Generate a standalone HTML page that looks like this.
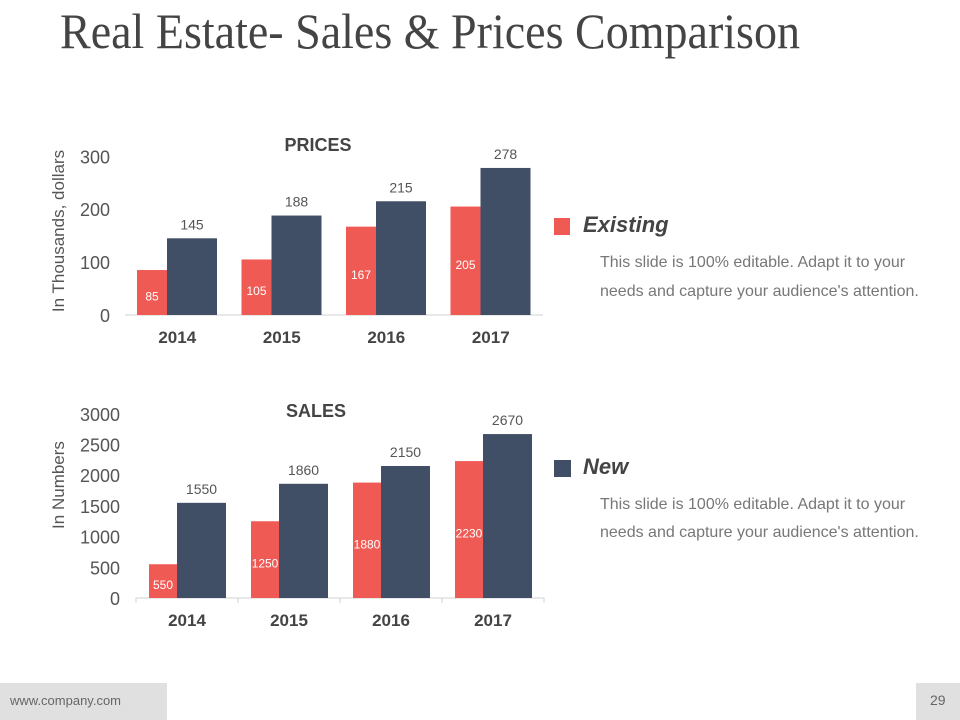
<!DOCTYPE html>
<html><head><meta charset="utf-8"><style>
html,body{margin:0;padding:0;background:#fff;}
svg{display:block;font-family:"Liberation Sans",sans-serif;}
</style></head><body>
<svg id="s" width="960" height="720" viewBox="0 0 960 720">
<text x="60" y="48" font-family="Liberation Serif,serif" font-size="50" fill="#444" textLength="740" lengthAdjust="spacingAndGlyphs">Real Estate- Sales &amp; Prices Comparison</text>
<g id="prices"></g>
<g id="sales"></g>
<g>
<rect x="554" y="218" width="16" height="17" fill="#f05a55"/>
<text x="583" y="232" font-size="22" font-weight="bold" font-style="italic" fill="#444">Existing</text>
<text x="600" y="267" font-size="16" fill="#777">This slide is 100% editable. Adapt it to your</text>
<text x="600" y="296" font-size="16" fill="#777">needs and capture your audience's attention.</text>
</g>
<g>
<rect x="554" y="460" width="17" height="17" fill="#404f66"/>
<text x="583" y="474" font-size="22" font-weight="bold" font-style="italic" fill="#444">New</text>
<text x="600" y="509" font-size="16" fill="#777">This slide is 100% editable. Adapt it to your</text>
<text x="600" y="537" font-size="16" fill="#777">needs and capture your audience's attention.</text>
</g>
<rect x="0" y="683" width="167" height="37" fill="#e0e0e0"/>
<text x="10" y="705" font-size="13" fill="#666">www.company.com</text>
<rect x="916" y="683" width="44" height="37" fill="#e0e0e0"/>
<text x="930" y="705" font-size="14" fill="#666">29</text>
</svg>
<script>
const categories = ["2014","2015","2016","2017"];
const priceExisting = [85,105,167,205];
const priceNew = [145,188,215,278];
const priceTicks = [0,100,200,300];
const salesExisting = [550,1250,1880,2230];
const salesNew = [1550,1860,2150,2670];
const salesTicks = [0,500,1000,1500,2000,2500,3000];
const NS="http://www.w3.org/2000/svg";
function mk(p,tag,a,txt){const e=document.createElementNS(NS,tag);for(const k in a)e.setAttribute(k,a[k]);if(txt!==undefined)e.textContent=txt;p.appendChild(e);return e;}
function chart(g,cfg,ex,nw,ticks,title,ytitle){
  const y=v=>cfg.base-v*cfg.k;
  const x0=cfg.x0,cw=cfg.cw;
  let e=mk(g,'line',{x1:x0,x2:x0+cw*categories.length,y1:cfg.base,y2:cfg.base,stroke:'#d0d0d0'});
  
  
  if(cfg.ticks){
    for(let i=0;i<=categories.length;i++){
      e=mk(g,'line',{x1:x0+cw*i,x2:x0+cw*i,y1:cfg.base,y2:cfg.base+5,stroke:'#d0d0d0'});
      
      
    }
  }
  ticks.forEach(t=>{
    e=mk(g,'text',{x:cfg.tx,y:y(t)+7,'text-anchor':'end','font-size':18,fill:'#555'},String(t));
    
    
  });
  categories.forEach((c,i)=>{
    const cx=x0+cw*i;
    const rx=cx+cfg.ro;
    e=mk(g,'rect',{x:rx,y:y(ex[i]),width:cfg.rw,height:ex[i]*cfg.k,fill:'#f05a55'});
    
    
    const nx=rx+cfg.rw;
    e=mk(g,'rect',{x:nx,y:y(nw[i]),width:cfg.nw,height:nw[i]*cfg.k,fill:'#404f66'});
    
    
    e=mk(g,'text',{x:rx+cfg.rw/2,y:(y(ex[i])+cfg.base)/2+8,'text-anchor':'middle','font-size':12,fill:'#fff'},String(ex[i]));
    
    
    e=mk(g,'text',{x:nx+cfg.nw/2,y:y(nw[i])-9,'text-anchor':'middle','font-size':14,fill:'#555'},String(nw[i]));
    
    
    e=mk(g,'text',{x:cx+cw/2,y:cfg.base+28,'text-anchor':'middle','font-size':17,'font-weight':'bold',fill:'#444'},c);
    
    
  });
  e=mk(g,'text',{x:cfg.titleX,y:cfg.titleY,'text-anchor':'middle','font-size':18,'font-weight':'bold',fill:'#444'},title);
  
  
  e=mk(g,'text',{transform:`translate(${cfg.ytx},${cfg.yty}) rotate(-90)`,'text-anchor':'middle','font-size':17,fill:'#555'},ytitle);
  
  
}
chart(document.getElementById('prices'),{base:315,k:0.529,x0:125,cw:104.5,ro:12,rw:30,nw:50,tx:110,titleX:318,titleY:151,ytx:64,yty:231,ticks:false},priceExisting,priceNew,priceTicks,'PRICES','In Thousands, dollars');
chart(document.getElementById('sales'),{base:598,k:0.0614,x0:136,cw:102,ro:13,rw:28,nw:49,tx:120,titleX:316,titleY:417,ytx:64,yty:485,ticks:true},salesExisting,salesNew,salesTicks,'SALES','In Numbers');
</script>
</body></html>
